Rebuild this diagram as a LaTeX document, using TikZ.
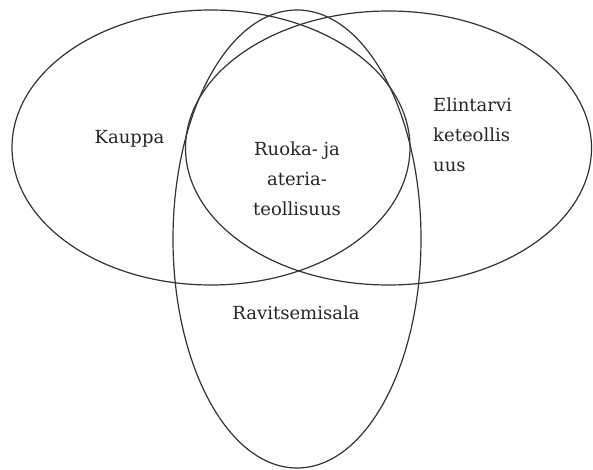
\documentclass[tikz,border=0pt]{standalone}
\usepackage{fontspec}
\setmainfont{DejaVu Serif}
\usetikzlibrary{shapes.geometric}
\begin{document}
\begin{tikzpicture}[x=1pt,y=-1pt,
  setshape/.style={ellipse,draw=black!80,line width=1.2pt,inner sep=0pt},
  lbl/.style={inner sep=0pt,font=\fontsize{18}{30}\selectfont,text=black!85}]
\useasboundingbox (0,0) rectangle (593,470);
\node[setshape,minimum width=398pt,minimum height=275pt] (kauppa) at (211,147.5) {};
\node[setshape,minimum width=406pt,minimum height=274pt] (elintarvike) at (388.5,148) {};
\node[setshape,minimum width=248pt,minimum height=458pt] (ravitsemis) at (297,239) {};
\node[lbl,anchor=base] (tkauppa) at (129.5,144) {Kauppa};
\node[lbl,align=center,anchor=center] (truoka) at (297,178.5) {Ruoka- ja\\ateria-\\teollisuus};
\node[lbl,align=left,anchor=west] (telin) at (433,135) {Elintarvi\\keteollis\\uus};
\node[lbl,anchor=base] (travit) at (296,319) {Ravitsemisala};
\end{tikzpicture}
\end{document}
